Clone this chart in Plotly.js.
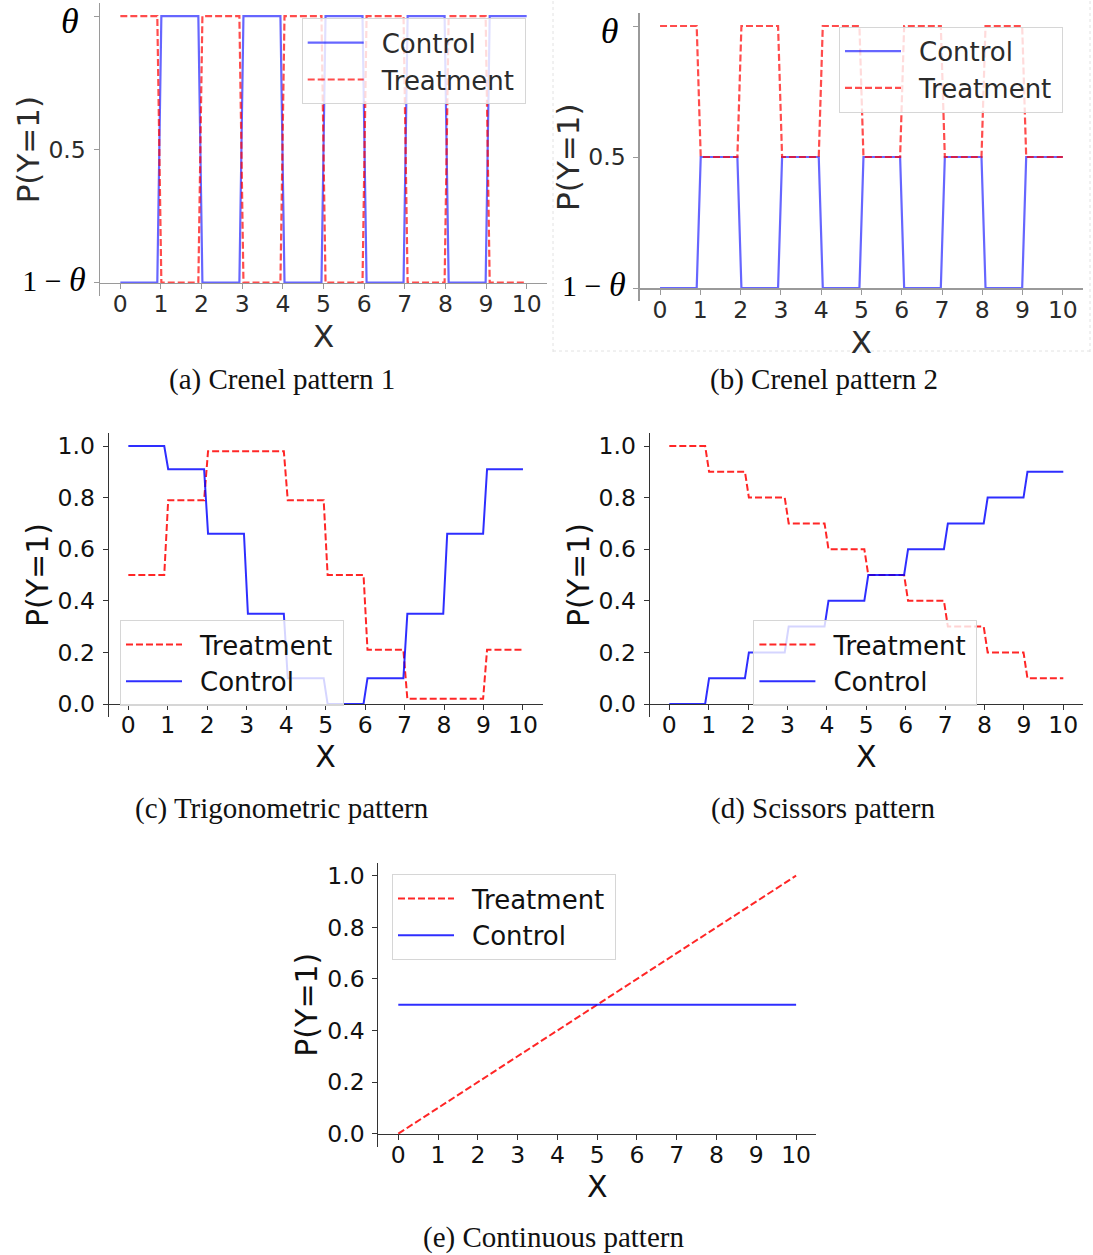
<!DOCTYPE html>
<html><head><meta charset="utf-8">
<script src="https://cdn.plot.ly/plotly-3.0.1.min.js"></script>
<style>html,body{margin:0;padding:0;background:#fff}#chart{width:1093px;height:1255px}</style>
</head><body><div id="chart"></div>
<script>
// ---------------- data ----------------
const xTicks = [0,1,2,3,4,5,6,7,8,9,10];
// x positions where each unit step starts / ends (sampled step function)
const stepX = [0,0.91, 1.01,1.92, 2.02,2.93, 3.03,3.94, 4.04,4.95, 5.05,5.96, 6.06,6.97, 7.07,7.98, 8.08,8.99, 9.09,10];

// (a) Crenel pattern 1 : theta = 0.9, 1 - theta = 0.1
const crenel1Control   = [0.1,0.9,0.1,0.9,0.1,0.9,0.1,0.9,0.1,0.9];
const crenel1Treatment = [0.9,0.1,0.9,0.1,0.9,0.1,0.9,0.1,0.9,0.1];
// (b) Crenel pattern 2
const crenel2Control   = [0.1,0.5,0.1,0.5,0.1,0.5,0.1,0.5,0.1,0.5];
const crenel2Treatment = [0.9,0.5,0.9,0.5,0.9,0.5,0.9,0.5,0.9,0.5];
// (c) Trigonometric pattern
const trigTreatment = [0.5,0.79,0.98,0.98,0.79,0.5,0.21,0.02,0.02,0.21];
const trigControl   = [1.0,0.91,0.66,0.35,0.1,0.0,0.1,0.35,0.66,0.91];
// (d) Scissors pattern
const scissorsTreatment = [1.0,0.9,0.8,0.7,0.6,0.5,0.4,0.3,0.2,0.1];
const scissorsControl   = [0.0,0.1,0.2,0.3,0.4,0.5,0.6,0.7,0.8,0.9];
// (e) Continuous pattern
const contX = [0,10];
const contTreatment = [0.0,1.0];
const contControl   = [0.5,0.5];

const thetaTickVals = [0.1,0.5,0.9];
const thetaTickText = [
  '<span style="font-family:Liberation Serif;font-size:30px;color:#000">1 − <span style="font-size:34px"><i>θ</i></span></span>',
  '0.5',
  '<span style="font-family:Liberation Serif;font-size:36px;color:#000;baseline-shift:-9px"><i>θ</i>\u2009</span>'
];
const probTickVals = [0,0.2,0.4,0.6,0.8,1.0];
const probTickText = ['0.0','0.2','0.4','0.6','0.8','1.0'];
const seriesNames = {control:'Control', treatment:'Treatment'};
const captions = ['(a) Crenel pattern 1','(b) Crenel pattern 2','(c) Trigonometric pattern','(d) Scissors pattern','(e) Continuous pattern'];

// ---------------- helpers ----------------
const W = 1093, H = 1255;
function expandSteps(vals){ const y=[]; vals.forEach(v=>{y.push(v);y.push(v);}); return y; }
const GAP = '\u2002';

// panel boxes in pixels (layout only)
const panels = [
  {l:100,   r:547,  t:2.7,   b:296,    yr:[0.06,0.94],  base:0.1, line:'#9a9a9a', lw:1.5, txt:'#2b2b2b', tfs:31},
  {l:639.9, r:1083, t:12.9,  b:301.1,  yr:[0.06,0.94],  base:0.1, line:'#9a9a9a', lw:1.5, txt:'#2b2b2b', tfs:31},
  {l:108.6, r:542.7,t:433.1, b:716.9,  yr:[-0.05,1.05], base:0,   line:'#333',    lw:1,   txt:'#111',    tfs:30},
  {l:649.6, r:1083, t:433.1, b:716.9,  yr:[-0.05,1.05], base:0,   line:'#333',    lw:1,   txt:'#111',    tfs:30},
  {l:378.4, r:816,  t:862.8, b:1146.6, yr:[-0.05,1.05], base:0,   line:'#333',    lw:1,   txt:'#111',    tfs:30}
];

const BLUE_A = 'rgba(0,0,255,0.6)', RED_A = 'rgba(255,0,0,0.7)';
const BLUE = 'rgba(0,0,255,0.82)', RED = 'rgba(255,0,0,0.85)';
const DASH = '7px,3px';

function tr(x, y, who, ax, leg, faded){
  const isC = who==='control';
  return {
    x:x, y:y, name:GAP+seriesNames[who]+'\u2009', mode:'lines',
    line:{color: isC ? (faded?BLUE_A:BLUE) : (faded?RED_A:RED), width: faded?2.2:2, dash: isC?'solid':DASH},
    xaxis:'x'+ax, yaxis:'y'+ax, legend:leg, hoverinfo:'skip'
  };
}

const traces = [
  tr(stepX, expandSteps(crenel1Control),   'control',   '',  'legend',  true),
  tr(stepX, expandSteps(crenel1Treatment), 'treatment', '',  'legend',  true),
  tr(stepX, expandSteps(crenel2Control),   'control',   '2', 'legend2', true),
  tr(stepX, expandSteps(crenel2Treatment), 'treatment', '2', 'legend2', true),
  tr(stepX, expandSteps(trigTreatment),    'treatment', '3', 'legend3', false),
  tr(stepX, expandSteps(trigControl),      'control',   '3', 'legend3', false),
  tr(stepX, expandSteps(scissorsTreatment),'treatment', '4', 'legend4', false),
  tr(stepX, expandSteps(scissorsControl),  'control',   '4', 'legend4', false),
  tr(contX, contTreatment, 'treatment', '5', 'legend5', false),
  tr(contX, contControl,   'control',   '5', 'legend5', false)
];

const layout = {
  width:W, height:H, margin:{l:0,r:0,t:0,b:0},
  paper_bgcolor:'#fff', plot_bgcolor:'rgba(0,0,0,0)',
  font:{family:'DejaVu Sans', color:'#111'},
  annotations:[], shapes:[]
};

panels.forEach((p,i)=>{
  const k = i===0 ? '' : String(i+1);
  const xd = [p.l/W, p.r/W];
  const yd = [1-p.b/H, 1-p.t/H];
  const pos = yd[0] + (yd[1]-yd[0])*(p.base-p.yr[0])/(p.yr[1]-p.yr[0]);
  const isTheta = i < 2;
  layout['xaxis'+k] = {
    domain:xd, range:[-0.5,10.5], anchor:'free', position:pos,
    showline:true, linecolor:p.line, linewidth:p.lw,
    ticks:'outside', ticklen:5, tickwidth:1, tickcolor:p.line,
    tickmode:'array', tickvals:xTicks, ticktext:xTicks.map(String),
    showgrid:false, zeroline:false, automargin:false, fixedrange:true,
    ticklabelstandoff:-5, ticklabeloverflow:'allow',
    tickfont:{family:'DejaVu Sans', size:23.5, color:p.txt},
    title:{text:'X', font:{family:'DejaVu Sans', size:p.tfs, color:p.txt}, standoff:4}
  };
  const ya = {
    domain:yd, range:p.yr, anchor:'x'+k,
    showline:true, linecolor:p.line, linewidth:p.lw,
    ticks:'outside', ticklen:5, tickwidth:1, tickcolor:p.line,
    tickmode:'array',
    tickvals: isTheta ? thetaTickVals : probTickVals,
    ticktext: isTheta ? thetaTickText : probTickText,
    showgrid:false, zeroline:false, automargin:false, fixedrange:true,
    ticklabelstandoff:3, ticklabeloverflow:'allow',
    tickfont:{family:'DejaVu Sans', size:23.5, color:p.txt}
  };
  if(!isTheta){
    ya.title = {text:'P(Y=1)', font:{family:'DejaVu Sans', size:p.tfs, color:p.txt}, standoff:0};
  } else {
    layout.annotations.push({
      text:'P(Y=1)', xref:'paper', yref:'paper', textangle:-90,
      x:(p.l-72)/W, y:(yd[0]+yd[1])/2, xanchor:'center', yanchor:'middle', showarrow:false,
      font:{family:'DejaVu Sans', size:p.tfs, color:p.txt}
    });
  }
  layout['yaxis'+k] = ya;
});

// legends
const legendBoxes = [
  {x:301.7, y:18.3}, {x:839, y:26.7}, {x:120, y:620}, {x:753.4, y:620}, {x:392, y:874}
];
legendBoxes.forEach((b,i)=>{
  const k = i===0 ? 'legend' : 'legend'+(i+1);
  layout[k] = {
    x:b.x/W, y:1-b.y/H, xref:'paper', yref:'paper', xanchor:'left', yanchor:'top',
    bgcolor:'rgba(255,255,255,0.8)', bordercolor:'#d6d6d6', borderwidth:1,
    font:{family:'DejaVu Sans', size:26, color: i<2 ? '#2b2b2b' : '#111'},
    itemwidth:56, traceorder:'normal'
  };
});

// captions
const capPos = [[281.5,379],[824,379],[282,808],[822.5,808],[553.5,1237]];
captions.forEach((c,i)=>{
  layout.annotations.push({
    text:c, xref:'paper', yref:'paper', x:capPos[i][0]/W, y:1-capPos[i][1]/H,
    xanchor:'center', yanchor:'middle', showarrow:false,
    font:{family:'Liberation Serif', size:29, color:'#111'}
  });
});

// faint dotted frame of panel (b) screenshot
layout.shapes.push(
  {type:'line', xref:'paper', yref:'paper', x0:553/W, x1:553/W, y0:1-352/H, y1:1, line:{color:'#e2e2e2', width:1, dash:'dot'}},
  {type:'line', xref:'paper', yref:'paper', x0:553/W, x1:1090/W, y0:1-351/H, y1:1-351/H, line:{color:'#e2e2e2', width:1, dash:'dot'}},
  {type:'line', xref:'paper', yref:'paper', x0:1090/W, x1:1090/W, y0:1-352/H, y1:1, line:{color:'#e2e2e2', width:1, dash:'dot'}}
);

Plotly.newPlot('chart', traces, layout, {displayModeBar:false, staticPlot:true});
</script>
</body></html>
